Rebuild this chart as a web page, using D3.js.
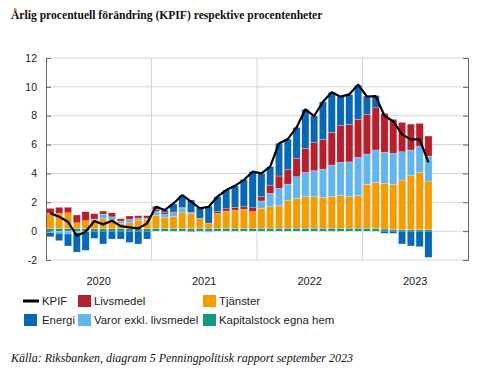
<!DOCTYPE html>
<html>
<head>
<meta charset="utf-8">
<script src="https://d3js.org/d3.v7.min.js"></script>
<style>
  body { margin: 0; background: #fff; }
  svg text { font-family: "Liberation Sans", Arial, sans-serif; fill: #222; }
</style>
</head>
<body>
<script>
// categories
var years = ["2020", "2021", "2022", "2023"];
var monthNames = ["jan", "feb", "mar", "apr", "maj", "jun", "jul", "aug", "sep", "okt", "nov", "dec"];
var yTicks = [-2, 0, 2, 4, 6, 8, 10, 12];

// series, jan 2020 - aug 2023 (procentenheter)
var kapitalstock = [0.18, 0.18, 0.18, 0.18, 0.18, 0.18, 0.18, 0.18, 0.18, 0.18, 0.18, 0.18,
                    0.19, 0.19, 0.19, 0.19, 0.19, 0.19, 0.19, 0.19, 0.19, 0.19, 0.19, 0.19,
                    0.2, 0.2, 0.2, 0.2, 0.2, 0.2, 0.2, 0.2, 0.2, 0.2, 0.2, 0.2,
                    0.2, 0.18, 0.15, 0.12, 0.1, 0.1, 0.1, 0.1];
var tjanster = [1.05, 1.05, 1.09, 0.4, 0.54, 0.6, 0.68, 0.54, 0.36, 0.4, 0.59, 0.64,
                0.88, 0.74, 0.84, 1.13, 1.02, 0.71, 0.37, 1.04, 1.2, 1.27, 1.32, 1.16,
                1.38, 1.49, 1.55, 1.91, 2.07, 2.19, 2.19, 2.14, 2.21, 2.26, 2.19, 2.26,
                3.04, 3.2, 3.16, 3.12, 3.44, 3.74, 3.95, 3.37];
var varor = [-0.1, -0.15, -0.2, -0.1, -0.05, 0.05, 0.32, 0.27, 0.16, 0.24, 0.14, 0.09,
             0.3, 0.23, 0.25, 0.28, 0.08, -0.05, -0.08, 0.0, 0.0, 0.0, 0.0, 0.0,
             0.51, 0.93, 1.21, 1.15, 1.5, 1.68, 1.8, 1.96, 2.17, 2.31, 2.41, 2.65,
             2.1, 2.24, 2.15, 2.15, 1.96, 1.78, 1.85, 1.73];
var livsmedel = [0.35, 0.42, 0.38, 0.54, 0.63, 0.38, 0.21, 0.28, 0.16, 0.23, 0.16, 0.16,
                 0.15, 0.11, 0.05, 0.05, -0.05, 0.0, 0.0, 0.12, 0.16, 0.19, 0.18, 0.27,
                 0.3, 0.57, 0.86, 1.0, 1.27, 1.67, 1.94, 2.06, 2.26, 2.54, 2.6, 2.64,
                 2.75, 2.93, 2.7, 2.36, 2.04, 1.8, 1.57, 1.39];
var energi = [-0.29, -0.51, -0.83, -1.35, -1.28, -0.5, -0.89, -0.55, -0.55, -0.78, -0.89, -0.55,
              0.2, 0.19, 0.55, 0.81, 0.87, 0.72, 1.18, 1.04, 1.3, 1.5, 1.9, 2.5,
              1.6, 1.28, 2.26, 2.12, 2.15, 2.7, 1.85, 2.61, 2.78, 2.01, 2.08, 2.37,
              1.27, 0.84, -0.15, -0.15, -0.89, -1.03, -1.08, -1.82];
var kpif = [1.23, 1.0, 0.65, -0.32, -0.04, 0.7, 0.47, 0.72, 0.35, 0.26, 0.19, 0.54,
            1.69, 1.46, 1.92, 2.5, 2.04, 1.58, 1.69, 2.39, 2.85, 3.15, 3.54, 4.12,
            4.0, 4.47, 6.08, 6.38, 7.19, 8.44, 7.98, 8.97, 9.62, 9.32, 9.48, 10.15,
            9.33, 9.36, 8.0, 7.6, 6.7, 6.36, 6.36, 4.77];

var seriesKeys = ["kap", "tja", "var", "liv", "ene"];
var seriesNames = {kap: "Kapitalstock egna hem", tja: "Tjänster", var: "Varor exkl. livsmedel",
                   liv: "Livsmedel", ene: "Energi", kpif: "KPIF"};
var colors = {kap: "#17967f", tja: "#f59c00", var: "#62b5ef", liv: "#b81f2d", ene: "#0868b3"};

var allMonths = [];
years.forEach(function(y) { monthNames.forEach(function(m) { allMonths.push(m + " " + y); }); });

var rows = kpif.map(function(k, i) {
  return {month: allMonths[i], kap: kapitalstock[i], tja: tjanster[i], var: varor[i],
          liv: livsmedel[i], ene: energi[i], kpif: k};
});

var width = 480, height = 376;
var margin = {left: 46, right: 12, top: 58, bottom: 116};
var plotW = width - margin.left - margin.right;
var plotH = height - margin.top - margin.bottom;

var svg = d3.select("body").append("svg")
  .attr("width", width).attr("height", height);

svg.append("text")
  .attr("x", 11).attr("y", 19)
  .style("font-family", "'Liberation Serif', 'Times New Roman', serif")
  .style("font-weight", "bold").style("font-size", "11.6px").style("fill", "#111")
  .text("Årlig procentuell förändring (KPIF) respektive procentenheter");

var g = svg.append("g").attr("transform", "translate(" + margin.left + "," + margin.top + ")");

var x = d3.scaleBand().domain(allMonths).range([0, plotW]).paddingInner(0.18).paddingOuter(0.09);
var y = d3.scaleLinear().domain([-2, 12]).range([plotH, 0]);

// grid
g.append("g").selectAll("line").data(yTicks).join("line")
  .attr("x1", 0).attr("x2", plotW)
  .attr("y1", function(d) { return y(d); }).attr("y2", function(d) { return y(d); })
  .attr("stroke", "#d4d4d4").attr("stroke-width", 1);

var yearEdges = years.slice(1);
g.append("g").selectAll("line").data(yearEdges).join("line")
  .attr("x1", function(d) { return x("jan " + d) - x.step() * x.paddingOuter() * 0 - (x.step() - x.bandwidth()) / 2; })
  .attr("x2", function(d) { return x("jan " + d) - (x.step() - x.bandwidth()) / 2; })
  .attr("y1", 0).attr("y2", plotH)
  .attr("stroke", "#d4d4d4").attr("stroke-width", 1);

// stacked bars
var stack = d3.stack().keys(seriesKeys).offset(d3.stackOffsetDiverging);
var layers = stack(rows);

g.append("g").selectAll("g").data(layers).join("g")
  .attr("fill", function(d) { return colors[d.key]; })
  .selectAll("rect").data(function(d) { return d; }).join("rect")
  .attr("x", function(d) { return x(d.data.month); })
  .attr("width", x.bandwidth())
  .attr("y", function(d) { return y(Math.max(d[0], d[1])); })
  .attr("height", function(d) { return Math.abs(y(d[0]) - y(d[1])); })
  .attr("stroke", "#fff").attr("stroke-width", 0.4).attr("stroke-opacity", 0.6);

// KPIF line
var line = d3.line()
  .x(function(d) { return x(d.month) + x.bandwidth() / 2; })
  .y(function(d) { return y(d.kpif); });
g.append("path").datum(rows)
  .attr("fill", "none").attr("stroke", "#000").attr("stroke-width", 2.2)
  .attr("stroke-linejoin", "round")
  .attr("d", line);

// axes
var yAxisL = d3.axisRight(y).tickValues(yTicks).tickSize(5).tickFormat("");
g.append("g").call(yAxisL)
  .call(function(s) { s.selectAll("path, line").attr("stroke", "#666"); });
g.selectAll(".ylab").data(yTicks).join("text").attr("class", "ylab")
  .attr("x", -9).attr("y", function(d) { return y(d); }).attr("dy", "0.35em")
  .attr("text-anchor", "end").style("font-size", "10.5px")
  .text(function(d) { return d; });

var yAxisR = d3.axisLeft(y).tickValues(yTicks).tickSize(5).tickFormat("");
g.append("g").attr("transform", "translate(" + plotW + ",0)").call(yAxisR)
  .call(function(s) { s.selectAll("path, line").attr("stroke", "#666"); });

g.selectAll(".xlab").data(years).join("text").attr("class", "xlab")
  .attr("x", function(d) {
    var a = x("jan " + d) - (x.step() - x.bandwidth()) / 2;
    return a + x.step() * 6;
  })
  .attr("y", plotH + 25).attr("text-anchor", "middle").style("font-size", "11px")
  .text(function(d) { return d; });

// legend
var legendItems = [
  {key: "kpif", col: 0, row: 0}, {key: "liv", col: 1, row: 0}, {key: "tja", col: 2, row: 0},
  {key: "ene", col: 0, row: 1}, {key: "var", col: 1, row: 1}, {key: "kap", col: 2, row: 1}
];
var colX = [23, 78, 203], rowY = [301, 320];
var lg = svg.append("g");
legendItems.forEach(function(it) {
  var lx = colX[it.col], ly = rowY[it.row];
  if (it.key === "kpif") {
    lg.append("line").attr("x1", lx).attr("x2", lx + 16).attr("y1", ly).attr("y2", ly)
      .attr("stroke", "#000").attr("stroke-width", 3);
  } else {
    lg.append("rect").attr("x", lx + (it.col === 0 ? 1 : 0)).attr("y", ly - 6).attr("width", 13).attr("height", 12)
      .attr("fill", colors[it.key]);
  }
  lg.append("text").attr("x", it.col === 0 ? 42 : lx + 16).attr("y", ly).attr("dy", "0.35em")
    .style("font-size", "11.4px").text(seriesNames[it.key]);
});

svg.append("text")
  .attr("x", 11).attr("y", 362)
  .style("font-family", "'Liberation Serif', 'Times New Roman', serif")
  .style("font-style", "italic").style("font-size", "12px").style("fill", "#111")
  .text("Källa: Riksbanken, diagram 5 Penningpolitisk rapport september 2023");
</script>
</body>
</html>
